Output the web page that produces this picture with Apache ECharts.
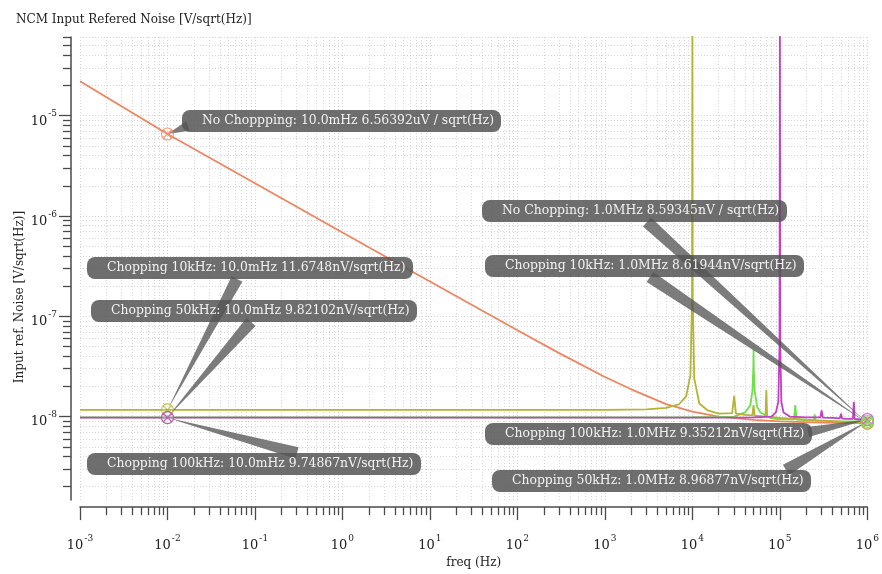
<!DOCTYPE html>
<html>
<head>
<meta charset="utf-8">
<script src="https://cdn.jsdelivr.net/npm/echarts@6/dist/echarts.min.js"></script>
<style>
  html, body { margin: 0; padding: 0; background: #ffffff; }
  #chart { width: 882px; height: 574px; }
</style>
</head>
<body>
<div id="chart"></div>
<script>
// ---- Noise spectra, frequency in Hz, noise density in V/sqrt(Hz) ----
const freqNoChop = [1e-3, 1e-2, 1e-1, 1, 10, 100, 300, 1e3, 2e3, 3e3, 5e3, 1e4, 2e4, 5e4, 1e5, 3e5, 1e6];
const noiseNoChop = [2.2e-5, 6.56392e-6, 2.12e-6, 6.85e-7, 2.22e-7, 7.25e-8, 4.29e-8, 2.48e-8, 1.87e-8, 1.61e-8,
  1.33e-8, 1.12e-8, 1.0e-8, 9.27e-9, 8.95e-9, 8.7e-9, 8.59345e-9];

const freqChop10k = [1e-3, 1e-2, 1e2, 1e3, 3e3, 5e3, 7e3, 8.5e3, 9.5e3, 9.9e3, 1e4, 1.01e4, 1.05e4, 1.2e4, 1.5e4,
  2e4, 2.85e4, 3e4, 3.15e4, 4e4, 4.85e4, 5e4, 5.15e4, 6e4, 6.85e4, 7e4, 7.15e4, 8e4, 1e5, 2e5, 5e5, 1e6];
const noiseChop10k = [1.16748e-8, 1.16748e-8, 1.16748e-8, 1.167e-8, 1.18e-8, 1.22e-8, 1.32e-8, 1.6e-8, 2.6e-8, 1.5e-7,
  1e-4, 1.5e-7, 2.4e-8, 1.35e-8, 1.15e-8, 1.07e-8, 1.08e-8, 1.61e-8, 1.07e-8, 1.04e-8, 1.03e-8, 1.3e-8, 1.02e-8,
  1.01e-8, 1.0e-8, 1.84e-8, 1.0e-8, 9.9e-9, 9.7e-9, 9.3e-9, 8.9e-9, 8.61944e-9];

const freqChop50k = [1e-3, 1e-2, 1e3, 1e4, 2e4, 3e4, 4e4, 4.6e4, 4.85e4, 4.97e4, 5e4, 5.03e4, 5.15e4, 5.5e4, 6e4,
  8e4, 1e5, 1.45e5, 1.5e5, 1.55e5, 2e5, 2.45e5, 2.5e5, 2.55e5, 4e5, 1e6];
const noiseChop50k = [9.82102e-9, 9.82102e-9, 9.82102e-9, 9.85e-9, 9.9e-9, 1.0e-8, 1.1e-8, 1.3e-8, 1.8e-8, 3e-8,
  4.65e-8, 3e-8, 1.8e-8, 1.25e-8, 1.1e-8, 9.6e-9, 9.4e-9, 9.4e-9, 1.3e-8, 9.35e-9, 9.2e-9, 9.1e-9, 1.05e-8,
  9.1e-9, 9.0e-9, 8.96877e-9];

const freqChop100k = [1e-3, 1e-2, 1e3, 2e4, 5e4, 8e4, 9e4, 9.6e4, 9.9e4, 1e5, 1.01e5, 1.04e5, 1.1e5, 1.3e5, 2e5,
  2.9e5, 3e5, 3.1e5, 4e5, 4.85e5, 5e5, 5.15e5, 6e5, 6.85e5, 7e5, 7.15e5, 8e5, 1e6];
const noiseChop100k = [9.74867e-9, 9.74867e-9, 9.74867e-9, 9.75e-9, 9.8e-9, 1.0e-8, 1.1e-8, 1.4e-8, 5e-8, 1e-4,
  5e-8, 1.4e-8, 1.1e-8, 1.0e-8, 9.8e-9, 9.8e-9, 1.15e-8, 9.75e-9, 9.7e-9, 9.6e-9, 1.07e-8, 9.55e-9, 9.5e-9,
  9.5e-9, 1.4e-8, 9.45e-9, 9.4e-9, 9.35212e-9];

// ---- Marker readouts ----
const markerName = ['No Choppping', 'Chopping 10kHz', 'Chopping 50kHz', 'Chopping 100kHz',
  'No Chopping', 'Chopping 10kHz', 'Chopping 100kHz', 'Chopping 50kHz'];
const markerFreq = [1e-2, 1e-2, 1e-2, 1e-2, 1e6, 1e6, 1e6, 1e6];
const markerFreqText = ['10.0mHz', '10.0mHz', '10.0mHz', '10.0mHz', '1.0MHz', '1.0MHz', '1.0MHz', '1.0MHz'];
const markerValue = [6.56392e-6, 1.16748e-8, 9.82102e-9, 9.74867e-9, 8.59345e-9, 8.61944e-9, 9.35212e-9, 8.96877e-9];
const markerUnitSuffix = [' / sqrt(Hz)', '/sqrt(Hz)', '/sqrt(Hz)', '/sqrt(Hz)', ' / sqrt(Hz)', '/sqrt(Hz)', '/sqrt(Hz)', '/sqrt(Hz)'];
const markerSeries = [0, 1, 2, 3, 0, 1, 3, 2];

// ---- Axis ticks ----
const xMajorTicks = [1e-3, 1e-2, 1e-1, 1, 10, 100, 1e3, 1e4, 1e5, 1e6];
const yMajorTicks = [1e-8, 1e-7, 1e-6, 1e-5];
const minorMultipliers = [2, 3, 4, 5, 6, 7, 8, 9];

// ---- Styling ----
const SERIF = '"DejaVu Serif", "Liberation Serif", serif';
const COLORS = ['#f0845e', '#b4b432', '#6ee04a', '#c43ec8'];
const AXIS_COLOR = '#4a4a4a';
const GRID_COLOR = '#d6d6d6';
const Y_MIN = 1.47e-9, Y_MAX = 6.08e-5;
const X_MIN = 1e-3, X_MAX = 1e6;

function minorTicks(lo, hi) {
  const out = [];
  for (let e = Math.floor(Math.log10(lo)); e <= Math.ceil(Math.log10(hi)); e++) {
    minorMultipliers.forEach(m => {
      const v = m * Math.pow(10, e);
      if (v > lo && v < hi) out.push(v);
    });
  }
  return out;
}
const xMinorTicks = minorTicks(X_MIN, X_MAX);
const yMinorTicks = minorTicks(Y_MIN, Y_MAX);

function pairs(xs, ys) { return xs.map((x, i) => [x, ys[i]]); }

function powLabel(v) {
  const e = Math.round(Math.log10(v));
  return '{b|10}{e|' + e + '}';
}
const powRich = {
  b: { fontFamily: SERIF, fontSize: 13, color: '#222', lineHeight: 18, verticalAlign: 'bottom' },
  e: { fontFamily: SERIF, fontSize: 9, color: '#222', lineHeight: 18, verticalAlign: 'top', padding: [0, 0, 0, 1] }
};

const chart = echarts.init(document.getElementById('chart'), null, { renderer: 'canvas' });

const gridLine = { show: true, lineStyle: { color: GRID_COLOR, width: 1, type: [1, 2] } };

const lineSeries = [
  { name: 'No Chopping', data: pairs(freqNoChop, noiseNoChop), color: COLORS[0], z: 2 },
  { name: 'Chopping 10kHz', data: pairs(freqChop10k, noiseChop10k), color: COLORS[1], z: 4 },
  { name: 'Chopping 50kHz', data: pairs(freqChop50k, noiseChop50k), color: COLORS[2], z: 3 },
  { name: 'Chopping 100kHz', data: pairs(freqChop100k, noiseChop100k), color: COLORS[3], z: 4 }
].map(s => ({
  type: 'line',
  name: s.name,
  data: s.data,
  xAxisIndex: 0,
  yAxisIndex: 0,
  showSymbol: false,
  symbol: 'none',
  z: s.z,
  clip: true,
  animation: false,
  lineStyle: { color: s.color, width: 1.8 },
  itemStyle: { color: s.color }
}));

const markerSymbol = 'path://M10,0A10,10,0,1,1,9.999,0Z M2.93,2.93L17.07,17.07 M17.07,2.93L2.93,17.07';

const option = {
  animation: false,
  backgroundColor: '#ffffff',
  title: {
    text: 'NCM Input Refered Noise [V/sqrt(Hz)]',
    left: 11, top: 9,
    textStyle: { fontFamily: SERIF, fontSize: 12, fontWeight: 'normal', color: '#222' }
  },
  grid: { left: 80, right: 10, top: 37, bottom: 65, containLabel: false },
  xAxis: [
    {
      type: 'log', logBase: 10, min: X_MIN, max: X_MAX, position: 'bottom', offset: 7,
      name: 'freq (Hz)', nameLocation: 'middle', nameGap: 41,
      nameTextStyle: { fontFamily: SERIF, fontSize: 12, color: '#222' },
      axisLine: { show: true, lineStyle: { color: AXIS_COLOR, width: 1.5 } },
      axisTick: { show: true, length: 13, inside: false, customValues: xMajorTicks, lineStyle: { color: AXIS_COLOR, width: 1.3 } },
      axisLabel: { show: true, margin: 27, customValues: xMajorTicks, formatter: powLabel, rich: powRich },
      splitLine: gridLine, minorTick: { show: false }
    },
    {
      type: 'log', logBase: 10, min: X_MIN, max: X_MAX, position: 'bottom', offset: 7,
      axisLine: { show: false },
      axisTick: { show: true, length: 8, customValues: xMinorTicks, lineStyle: { color: AXIS_COLOR, width: 1.3 } },
      axisLabel: { show: false },
      splitLine: gridLine
    }
  ],
  yAxis: [
    {
      type: 'log', logBase: 10, min: Y_MIN, max: Y_MAX, position: 'left', offset: 9,
      axisLine: { show: true, lineStyle: { color: AXIS_COLOR, width: 1.5 } },
      axisTick: { show: true, length: 12, customValues: yMajorTicks, lineStyle: { color: AXIS_COLOR, width: 1.3 } },
      axisLabel: { show: true, margin: 14, padding: [6, 0, 0, 0], customValues: yMajorTicks, formatter: powLabel, rich: powRich },
      splitLine: gridLine
    },
    {
      type: 'log', logBase: 10, min: Y_MIN, max: Y_MAX, position: 'left', offset: 9,
      axisLine: { show: false },
      axisTick: { show: true, length: 8, customValues: yMinorTicks, lineStyle: { color: AXIS_COLOR, width: 1.3 } },
      axisLabel: { show: false },
      splitLine: gridLine
    }
  ],
  series: lineSeries.concat([{
    type: 'scatter',
    name: 'markers',
    xAxisIndex: 0, yAxisIndex: 0,
    clip: false,
    z: 8,
    symbol: markerSymbol,
    symbolSize: 12,
    data: markerFreq.map((f, i) => ({
      value: [f, markerValue[i]],
      itemStyle: { color: 'rgba(255,255,255,0.15)', borderColor: COLORS[markerSeries[i]], borderWidth: 1.2 }
    }))
  }])
};

chart.setOption(option);

// ---- Marker readout callouts: box offset from the marker, wedge root inside the box ----
const LABEL_FONT = '12.4px "DejaVu Serif"';
const PAD_L = 20, PAD_R = 7, BOX_H = 22;
const calloutLayout = [
  { dx: 15, dy: -24, rx: 6, ry: 16, hw: 5 },
  { dx: -80, dy: -153, rx: 150, ry: 22, hw: 6 },
  { dx: -76, dy: -117, rx: 160, ry: 22, hw: 6 },
  { dx: -80, dy: 35, rx: 210, ry: 0, hw: 6 },
  { dx: -385, dy: -223, rx: 165, ry: 22, hw: 6 },
  { dx: -382, dy: -168, rx: 165, ry: 22, hw: 6 },
  { dx: -382, dy: 4, rx: -4, ry: 9, hw: 5 },
  { dx: -375, dy: 49, rx: -25, ry: 0, hw: 6 }
];

function valueText(v) {
  return v >= 1e-6 ? (v * 1e6).toPrecision(6) + 'uV' : (v * 1e9).toPrecision(6) + 'nV';
}

const measureCtx = document.createElement('canvas').getContext('2d');
measureCtx.font = LABEL_FONT;

const elements = [];
markerName.forEach((name, i) => {
  const [ax, ay] = chart.convertToPixel({ xAxisIndex: 0, yAxisIndex: 0 }, [markerFreq[i], markerValue[i]]);
  const text = name + ': ' + markerFreqText[i] + ' ' + valueText(markerValue[i]) + markerUnitSuffix[i];
  const L = calloutLayout[i];
  const w = Math.ceil(measureCtx.measureText(text).width) + PAD_L + PAD_R;
  const bx = Math.round(ax + L.dx), by = Math.round(ay + L.dy);
  const rx = bx + (L.rx < 0 ? w + L.rx : L.rx), ry = by + L.ry;
  const vx = ax - rx, vy = ay - ry, len = Math.hypot(vx, vy);
  const px = -vy / len * L.hw, py = vx / len * L.hw;
  elements.push({
    type: 'polygon', silent: true, z: 5,
    shape: { points: [[rx + px, ry + py], [rx - px, ry - py], [ax, ay]] },
    style: { fill: 'rgba(80,80,80,0.75)' }
  });
  elements.push({
    type: 'rect', silent: true, z: 6,
    shape: { x: bx, y: by, width: w, height: BOX_H, r: 8 },
    style: { fill: 'rgba(85,85,85,0.85)' }
  });
  elements.push({
    type: 'text', silent: true, z: 7,
    x: bx + PAD_L, y: by + BOX_H / 2,
    style: { text: text, font: LABEL_FONT, fill: '#f2f2f2', verticalAlign: 'middle', align: 'left' }
  });
});

// Vertical axis title
elements.push({
  type: 'text', silent: true, z: 7,
  x: 20, y: 297, rotation: Math.PI / 2,
  style: { text: 'Input ref. Noise [V/sqrt(Hz)]', font: '12px "DejaVu Serif"', fill: '#222', align: 'center', verticalAlign: 'middle' }
});

chart.setOption({ graphic: { elements: elements } });
</script>
</body>
</html>
